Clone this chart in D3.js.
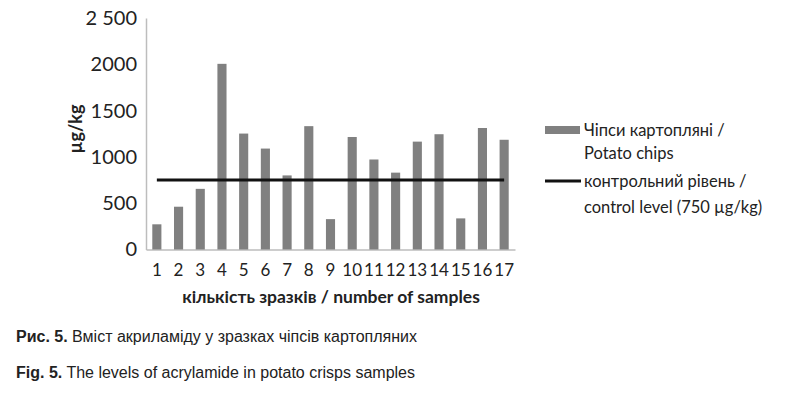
<!DOCTYPE html>
<html>
<head>
<meta charset="utf-8">
<script src="https://cdn.jsdelivr.net/npm/d3@7"></script>
<style>
	body { margin: 0; background: #fff; }
	svg text { fill: #222; }
</style>
</head>
<body>
<svg id="main" width="800" height="398"></svg>
<script>
// sample numbers and acrylamide levels (µg/kg)
var samples = ["1","2","3","4","5","6","7","8","9","10","11","12","13","14","15","16","17"];
var chips = [272, 462, 655, 2005, 1252, 1090, 800, 1332, 328, 1215, 972, 830, 1165, 1245, 336, 1312, 1185];
var control_level = 750;
var y_ticks = [0, 500, 1000, 1500, 2000, 2500];
var y_tick_labels = ["0", "500", "1000", "1500", "2000", "2 500"];
var legend_labels = [["Чіпси картопляні /", "Potato chips"], ["контрольний рівень /", "control level (750 µg/kg)"]];

var svg = d3.select("#main");
var chart_font = "Lato, 'Open Sans', sans-serif";

var x = d3.scaleBand().domain(samples).range([146, 515]).paddingInner(0.58).paddingOuter(0.29);
var y = d3.scaleLinear().domain([0, 2500]).range([249.5, 18]);

// axes
var y_axis = svg.append("g").attr("transform", "translate(146,0)")
	.call(d3.axisLeft(y).tickValues(y_ticks).tickSize(0).tickPadding(9)
		.tickFormat(function (d, i) { return y_tick_labels[i]; }));
y_axis.select(".domain").attr("stroke", "#bdbdbd").attr("stroke-width", 1.5);
y_axis.selectAll("text").style("font-family", chart_font).style("font-size", "20px").attr("fill", "#222");

var x_axis = svg.append("g").attr("transform", "translate(0,249.5)")
	.call(d3.axisBottom(x).tickSize(0).tickPadding(14));
x_axis.select(".domain").attr("stroke", "#bdbdbd").attr("stroke-width", 1.5);
x_axis.selectAll("text").style("font-family", chart_font).style("font-size", "17px").attr("fill", "#222");

// bars
svg.append("g").selectAll("rect")
	.data(chips).enter()
	.append("rect")
	.attr("x", function (d, i) { return x(samples[i]); })
	.attr("y", function (d) { return y(d); })
	.attr("width", x.bandwidth())
	.attr("height", function (d) { return y(0) - y(d); })
	.attr("fill", "#808080");

// control level line, from first to last category centre
var half = x.bandwidth() / 2;
svg.append("line")
	.attr("x1", x(samples[0]) + half).attr("x2", x(samples[samples.length - 1]) + half)
	.attr("y1", y(control_level)).attr("y2", y(control_level))
	.attr("stroke", "#111").attr("stroke-width", 3);

// axis titles
svg.append("text")
	.attr("transform", "translate(82,129) rotate(-90)")
	.attr("text-anchor", "middle")
	.style("font-family", chart_font).style("font-weight", "bold").style("font-size", "18px")
	.text("µg/kg");

svg.append("text")
	.attr("x", 331).attr("y", 303)
	.attr("text-anchor", "middle")
	.style("font-family", chart_font).style("font-weight", "bold").style("font-size", "17.5px")
	.text("кількість зразків / number of samples");

// legend
var legend = svg.append("g");
legend.append("rect").attr("x", 545).attr("y", 126).attr("width", 35).attr("height", 8).attr("fill", "#808080");
legend.append("line").attr("x1", 545).attr("x2", 581).attr("y1", 181).attr("y2", 181)
	.attr("stroke", "#111").attr("stroke-width", 3);
var legend_y = [136, 159, 187, 213];
legend_labels.forEach(function (pair, i) {
	pair.forEach(function (t, j) {
		legend.append("text")
			.attr("x", 584).attr("y", legend_y[i * 2 + j])
			.style("font-family", chart_font).style("font-size", "16.5px")
			.text(t);
	});
});

// captions
var captions = [["Рис. 5.", " Вміст акриламіду у зразках чіпсів картопляних", 342],
	["Fig. 5.", " The levels of acrylamide in potato crisps samples", 378]];
captions.forEach(function (c) {
	var t = svg.append("text").attr("x", 16).attr("y", c[2])
		.style("font-family", "'Liberation Sans', Arial, sans-serif").style("font-size", "16px");
	t.append("tspan").style("font-weight", "bold").text(c[0]);
	t.append("tspan").text(c[1]);
});
</script>
</body>
</html>
